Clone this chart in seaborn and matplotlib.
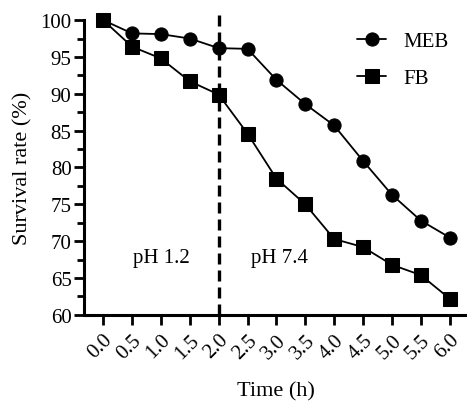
import numpy as np
import pandas as pd
import matplotlib
matplotlib.use("Agg")
import matplotlib.pyplot as plt
import matplotlib.transforms as mtransforms
import seaborn as sns
from matplotlib.ticker import MultipleLocator

time_h = [0.0, 0.5, 1.0, 1.5, 2.0, 2.5, 3.0, 3.5, 4.0, 4.5, 5.0, 5.5, 6.0]
meb = [100.0, 98.2, 98.1, 97.5, 96.2, 96.1, 91.9, 88.6, 85.7, 80.9, 76.3, 72.8, 70.5]
fb = [100.0, 96.4, 94.8, 91.7, 89.9, 84.6, 78.5, 75.0, 70.3, 69.2, 66.8, 65.4, 62.2]
x_ticklabels = ["0.0", "0.5", "1.0", "1.5", "2.0", "2.5", "3.0", "3.5", "4.0", "4.5", "5.0", "5.5", "6.0"]
y_ticks = [60, 65, 70, 75, 80, 85, 90, 95, 100]
series_names = ["MEB", "FB"]

df = pd.DataFrame({
    "Time": time_h * 2,
    "Survival": meb + fb,
    "Group": [series_names[0]] * len(time_h) + [series_names[1]] * len(time_h),
})

sns.set_style("ticks")
plt.rcParams["font.family"] = ["Liberation Serif", "DejaVu Serif"]
plt.rcParams["text.color"] = "black"
plt.rcParams["axes.labelcolor"] = "black"
plt.rcParams["xtick.color"] = "black"
plt.rcParams["ytick.color"] = "black"
plt.rcParams["axes.edgecolor"] = "black"

fig = plt.figure(figsize=(4.67, 4.14), dpi=100)
ax = fig.add_axes([0.18, 0.237, 0.82, 0.712])

sns.lineplot(data=df, x="Time", y="Survival", hue="Group", style="Group",
             palette=["black", "black"], markers={"MEB": "o", "FB": "s"},
             dashes=False, markersize=9.5, linewidth=1.3, ax=ax,
             markeredgecolor="black", clip_on=False)

ax.axvline(2.0, ymin=0.0, ymax=1.025, color="black", linestyle=(0, (3.3, 1.8)),
           linewidth=2.4, clip_on=False, zorder=1)

ax.set_xlim(-0.33, 6.3)
ax.set_ylim(60, 100)
ax.set_xticks(time_h)
ax.set_xticklabels(x_ticklabels, rotation=45, ha="right", rotation_mode="anchor", fontsize=15)
offset = mtransforms.ScaledTranslation(6 / 100, -6 / 100, fig.dpi_scale_trans)
for lab in ax.get_xticklabels():
    lab.set_transform(lab.get_transform() + offset)
ax.set_yticks(y_ticks)
ax.yaxis.set_minor_locator(MultipleLocator(2.5))
ax.tick_params(axis="y", labelsize=15, width=2, length=7, direction="out", pad=2)
ax.tick_params(axis="y", which="minor", width=2, length=5)
ax.tick_params(axis="x", width=2, length=7, direction="out", pad=4)

for s in ["top", "right"]:
    ax.spines[s].set_visible(False)
for s in ["left", "bottom"]:
    ax.spines[s].set_linewidth(2.2)

ax.set_xlabel("Time (h)", fontsize=16, labelpad=14)
ax.set_ylabel("Survival rate (%)", fontsize=16, labelpad=6)

ax.text(1.0, 67.8, "pH 1.2", fontsize=15, ha="center", va="center")
ax.text(3.05, 67.8, "pH 7.4", fontsize=15, ha="center", va="center")

leg = ax.legend(loc="upper right", bbox_to_anchor=(1.0, 1.025), frameon=False,
                fontsize=15, handlelength=1.4, labelspacing=0.85, title=None,
                handletextpad=0.8)

fig.savefig("out.png", dpi=100)
